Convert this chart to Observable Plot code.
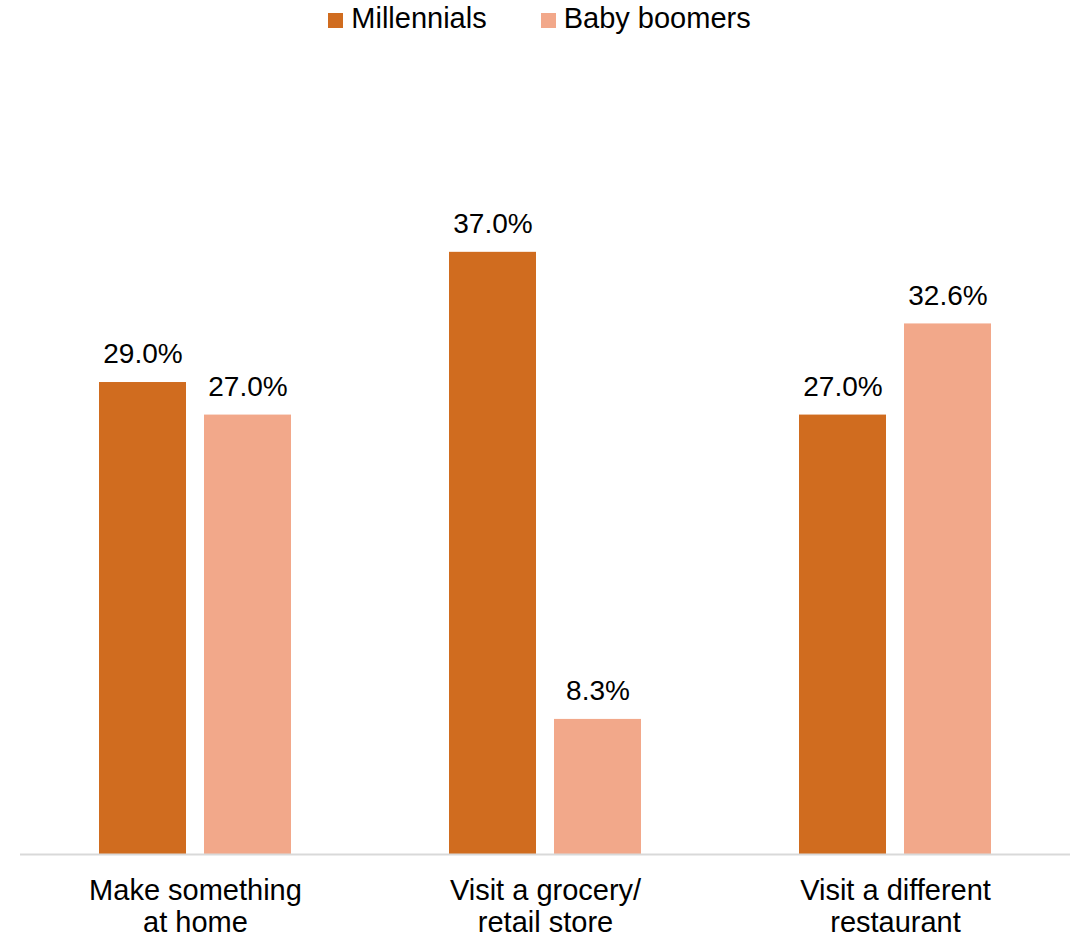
<!DOCTYPE html>
<html>
<head>
<meta charset="utf-8">
<script src="https://cdn.jsdelivr.net/npm/d3@7"></script>
<script src="https://cdn.jsdelivr.net/npm/@observablehq/plot@0.6"></script>
<style>
  html, body { margin: 0; padding: 0; background: #fff; }
  body { width: 1079px; height: 936px; overflow: hidden; font-family: "Liberation Sans", Arial, sans-serif; }
  #legend { height: 45px; display: flex; justify-content: center; align-items: flex-start; font-size: 29px; color: #000; }
  #legend .item { display: flex; align-items: center; height: 36px; line-height: 36px; }
  #legend .sw { width: 15px; height: 15px; margin-right: 8px; margin-top: 4px; }
  #legend .item + .item { margin-left: 54px; }
</style>
</head>
<body>
<div id="legend"></div>
<div id="chart"></div>
<script>
const categories = ["Make something at home", "Visit a grocery/ retail store", "Visit a different restaurant"];
const categoryLabels = ["Make something\nat home", "Visit a grocery/\nretail store", "Visit a different\nrestaurant"];
const series = ["Millennials", "Baby boomers"];
const millennials = [29.0, 37.0, 27.0];
const babyBoomers = [27.0, 8.3, 32.6];
const colors = ["#D06C1F", "#F2A88A"];

const data = [];
categories.forEach((c, i) => {
  data.push({category: c, series: series[0], value: millennials[i]});
  data.push({category: c, series: series[1], value: babyBoomers[i]});
});

const legend = document.getElementById("legend");
series.forEach((s, i) => {
  const item = document.createElement("div");
  item.className = "item";
  const sw = document.createElement("span");
  sw.className = "sw";
  sw.style.background = colors[i];
  const t = document.createElement("span");
  t.textContent = s;
  item.appendChild(sw);
  item.appendChild(t);
  legend.appendChild(item);
});

const chart = Plot.plot({
  width: 1079,
  height: 891,
  marginLeft: 20,
  marginRight: 9,
  marginTop: 158,
  marginBottom: 82,
  style: {fontFamily: "'Liberation Sans', Arial, sans-serif", fontSize: "28px", color: "#000", background: "#fff"},
  fx: {domain: categories, padding: 0, label: null},
  x: {domain: series, paddingInner: 0.171, paddingOuter: 0.752, axis: null},
  y: {domain: [0, 40], axis: null},
  color: {domain: series, range: colors},
  marks: [
    Plot.barY(data, {fx: "category", x: "series", y: "value", fill: "series"}),
    Plot.text(data, {fx: "category", x: "series", y: "value", text: d => d.value.toFixed(1) + "%", dy: -28, lineAnchor: "middle", fontSize: 28, fill: "#000"}),
    Plot.ruleY([0], {stroke: "#d9d9d9", strokeWidth: 2}),
    Plot.axisFx({anchor: "bottom", tickSize: 0, tickPadding: 23, fontSize: 29, lineHeight: 1.1, label: null,
      tickFormat: d => categoryLabels[categories.indexOf(d)]})
  ]
});
document.getElementById("chart").appendChild(chart);
</script>
</body>
</html>
